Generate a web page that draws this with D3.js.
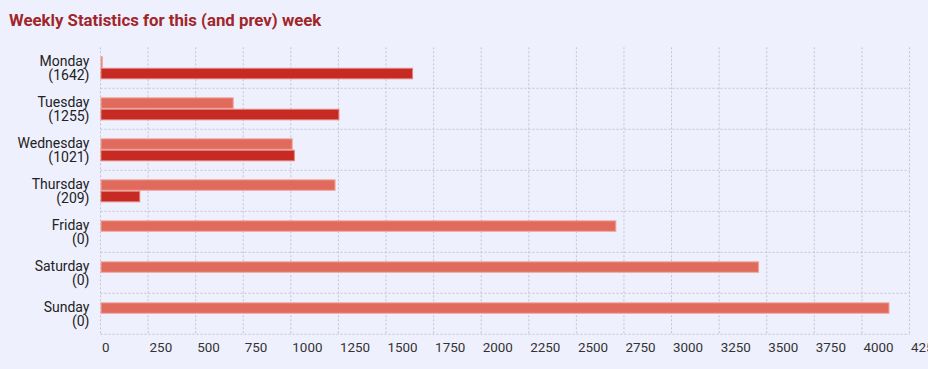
<!DOCTYPE html>
<html>
<head>
<meta charset="utf-8">
<script src="https://cdn.jsdelivr.net/npm/d3@7"></script>
<style>
  html, body { margin: 0; padding: 0; background: #eff0fd; }
  svg { display: block; font-family: Roboto, "Noto Sans", sans-serif; }
</style>
</head>
<body>
<svg id="chart" width="928" height="369"></svg>
<script>
const days = ["Monday", "Tuesday", "Wednesday", "Thursday", "Friday", "Saturday", "Sunday"];
const thisWeek = [1642, 1255, 1021, 209, 0, 0, 0];
const prevWeek = [12, 700, 1010, 1235, 2710, 3460, 4145];
const xTicks = [0, 250, 500, 750, 1000, 1250, 1500, 1750, 2000, 2250, 2500, 2750, 3000, 3250, 3500, 3750, 4000, 4250];
const seriesNames = ["prev", "this"];
const titleText = "Weekly Statistics for this (and prev) week";

const svg = d3.select("#chart");
const W = 928, H = 369;
svg.append("rect").attr("width", W).attr("height", H).attr("fill", "#eff0fd");

const plotLeft = 100.5, plotRight = 909.5, plotTop = 47.3, plotBottom = 334.3;
const x = d3.scaleLinear().domain([0, 4250]).range([plotLeft, plotRight]);
const y0 = d3.scaleBand().domain(days).range([plotTop, plotBottom]).padding(0);
const bw = y0.bandwidth();
const y1 = d3.scaleBand().domain(seriesNames).range([bw * 0.22, bw * 0.78]).padding(0);

const gridColor = "#c2c3d4";
// vertical grid
svg.append("g").selectAll("line").data(xTicks).join("line")
  .attr("x1", d => x(d)).attr("x2", d => x(d))
  .attr("y1", plotTop).attr("y2", plotBottom)
  .attr("stroke", gridColor).attr("stroke-width", 1).attr("stroke-dasharray", "2,2");
// horizontal grid (band boundaries, no top line)
svg.append("g").selectAll("line").data(days).join("line")
  .attr("x1", plotLeft).attr("x2", plotRight)
  .attr("y1", d => y0(d) + bw).attr("y2", d => y0(d) + bw)
  .attr("stroke", gridColor).attr("stroke-width", 1).attr("stroke-dasharray", "2,2");

// bars
const colors = { prev: "#e06a5c", this: "#c62a22" };
const strokes = { prev: "#f0a89e", this: "#e2837c" };
const rows = days.map((d, i) => ({ day: d, prev: prevWeek[i], this: thisWeek[i] }));
const g = svg.append("g");
rows.forEach(r => {
  seriesNames.forEach(s => {
    if (r[s] <= 0) return;
    g.append("rect")
      .attr("x", x(0) + 0.5)
      .attr("y", y0(r.day) + y1(s) + 0.5)
      .attr("width", Math.max(0, x(r[s]) - x(0) - 1))
      .attr("height", y1.bandwidth() - 1)
      .attr("fill", colors[s])
      .attr("stroke", strokes[s])
      .attr("stroke-width", 1);
  });
});

// y labels (two lines)
const yl = svg.append("g").attr("font-size", 14).attr("fill", "#222").attr("text-anchor", "end");
days.forEach((d, i) => {
  const cy = y0(d) + bw / 2;
  yl.append("text").attr("x", 89.5).attr("y", cy - 7).attr("dy", "0.35em").text(d);
  yl.append("text").attr("x", 89.5).attr("y", cy + 7).attr("dy", "0.35em").text("(" + thisWeek[i] + ")");
});

// x tick labels
svg.append("g").attr("font-size", 13.4).attr("fill", "#333").selectAll("text").data(xTicks).join("text")
  .attr("x", d => x(d) + 1.5).attr("y", 347).attr("dy", "0.35em")
  .text(d => d);

// title
svg.append("text").attr("x", 9).attr("y", 26).attr("font-size", 16.8).attr("font-weight", "bold")
  .attr("fill", "#a0262a").text(titleText);
</script>
</body>
</html>
